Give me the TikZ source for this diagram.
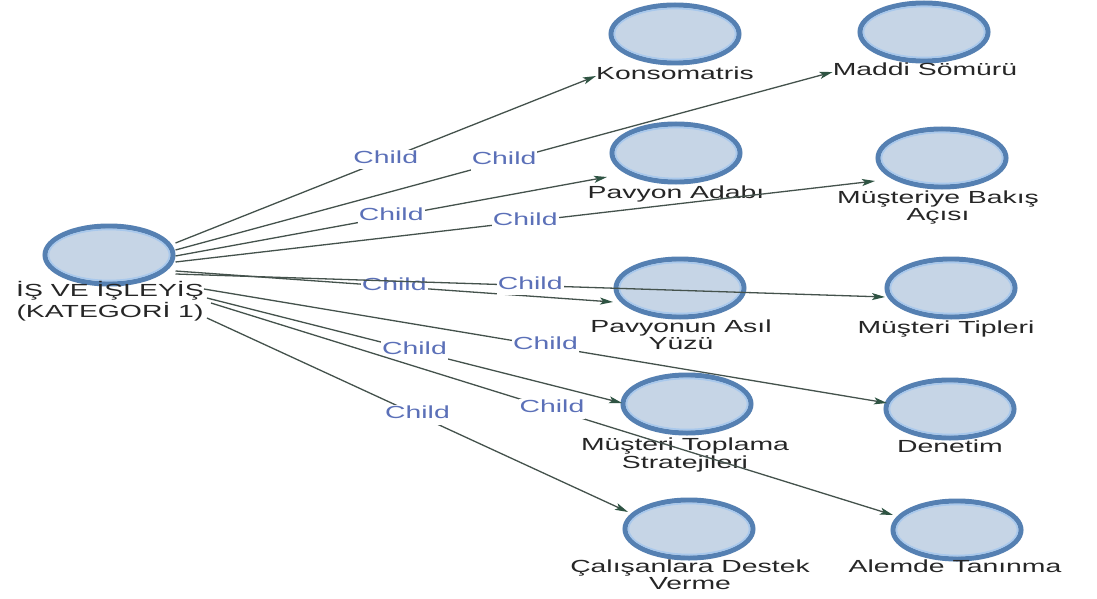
\documentclass[tikz,border=0pt]{standalone}
\usepackage{fontspec}
\setmainfont{Liberation Sans}
\usepackage{graphicx}
\usetikzlibrary{shapes.geometric,arrows.meta,calc}
\definecolor{ringdark}{HTML}{5580B2}
\definecolor{ringlight}{HTML}{A8C8EC}
\definecolor{nodefill}{HTML}{C6D5E6}
\definecolor{edgecol}{HTML}{44524C}
\definecolor{tipcol}{HTML}{2F5443}
\definecolor{childcol}{HTML}{5B70B8}
\definecolor{txtcol}{HTML}{262626}
\newcommand{\lbltxt}[1]{\scalebox{1.62}[1]{\begin{tabular}{@{}c@{}}#1\end{tabular}}}
\begin{document}
\begin{tikzpicture}[x=1pt,y=-1pt,
 circ/.style={ellipse, draw=ringdark, fill=nodefill, line width=5pt, minimum width=128pt, minimum height=58pt, inner sep=0pt},
 innerring/.style={draw=ringlight, line width=1.6pt},
 lab/.style={inner sep=0pt, text=txtcol, font=\fontsize{17.5}{17}\selectfont},
 conn/.style={draw=edgecol, line width=1.3pt, -{Stealth[length=13pt,width=7pt,inset=3pt,color=tipcol]}},
 chl/.style={fill=white, inner sep=1pt, text=childcol, font=\fontsize{17.5}{17}\selectfont, pos=0.5}
]
\fill[white] (0,0) rectangle (1097,599);
\useasboundingbox (0,0) rectangle (1097,599);

% nodes
\node[circ] (root) at (109,255) {};
\node[circ] (k) at (675,34) {};
\node[circ] (m) at (924,32) {};
\node[circ] (pa) at (676,153) {};
\node[circ] (mb) at (942,158) {};
\node[circ] (pv) at (680,288) {};
\node[circ] (mt) at (951,288) {};
\node[circ] (mts) at (687,404) {};
\node[circ] (dn) at (950,409) {};
\node[circ] (cd) at (689,529) {};
\node[circ] (at) at (957,530) {};
\foreach \n in {root,k,m,pa,mb,pv,mt,mts,dn,cd,at}
  \draw[innerring] (\n.center) ellipse [x radius=60.5pt, y radius=25.5pt];

% labels
\node[lab, font=\fontsize{17.5}{18.5}\selectfont] (rootl) at (110,302) {\lbltxt{İŞ VE İŞLEYİŞ\\(KATEGORİ 1)}};
\node[lab] (kl) at (675,76) {\lbltxt{Konsomatris}};
\node[lab] (ml) at (925,72) {\lbltxt{Maddi Sömürü}};
\node[lab] (pal) at (676,195) {\lbltxt{Pavyon Adabı}};
\node[lab] (mbl) at (938,208) {\lbltxt{Müşteriye Bakış\\Açısı}};
\node[lab] (pvl) at (681,337) {\lbltxt{Pavyonun Asıl\\Yüzü}};
\node[lab] (mtl) at (946,330) {\lbltxt{Müşteri Tipleri}};
\node[lab] (mtsl) at (685,456) {\lbltxt{Müşteri Toplama\\Stratejileri}};
\node[lab] (dnl) at (950,449) {\lbltxt{Denetim}};
\node[lab] (cdl) at (690,577) {\lbltxt{Çalışanlara Destek\\Verme}};
\node[lab] (atl) at (955,569) {\lbltxt{Alemde Tanınma}};

% connectors
\draw[conn] ([yshift=12pt]root.east) -- node[chl]{\lbltxt{Child}} (kl.west);
\draw[conn] ([yshift=5pt]root.east) -- node[chl]{\lbltxt{Child}} (ml.west);
\draw[conn] ([yshift=-1pt]root.east) -- node[chl]{\lbltxt{Child}} ($(pa.center)+(-69,24)$);
\draw[conn] ([yshift=-7pt]root.east) -- node[chl]{\lbltxt{Child}} ($(mb.center)+(-67,23)$);
\draw[conn] ([yshift=-16pt]root.east) -- node[chl]{\lbltxt{Child}} ($(pv.center)+(-67,14)$);
\draw[conn] ([yshift=-19pt]root.east) -- node[chl]{\lbltxt{Child}} ($(mt.center)+(-66,9)$);
\draw[conn] ([yshift=13pt]rootl.east) -- node[chl]{\lbltxt{Child}} ($(dn.center)+(-63,-6)$);
\draw[conn] ([xshift=3pt,yshift=4pt]rootl.east) -- node[chl]{\lbltxt{Child}} ($(mts.center)+(-65,-1)$);
\draw[conn] ([xshift=7pt,yshift=-1pt]rootl.east) -- node[chl]{\lbltxt{Child}} ($(at.center)+(-64,-15)$);
\draw[conn] ([xshift=3pt,yshift=-16pt]rootl.east) -- node[chl]{\lbltxt{Child}} ($(cd.center)+(-61,-17)$);
\end{tikzpicture}
\end{document}
